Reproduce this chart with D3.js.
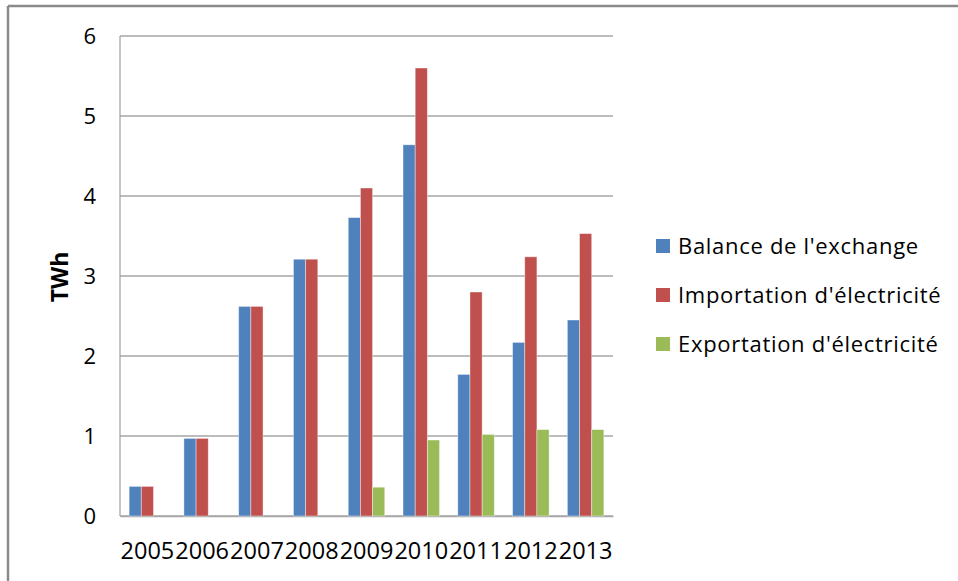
<!DOCTYPE html>
<html>
<head>
<meta charset="utf-8">
<script src="https://cdn.jsdelivr.net/npm/d3@7"></script>
<style>
  html, body { margin: 0; padding: 0; background: #fff; }
  svg { display: block; }
  text { font-family: "Open Sans", "Liberation Sans", sans-serif; fill: #000; }
</style>
</head>
<body>
<svg id="chart" width="958" height="581"></svg>
<script>
const years = ["2005","2006","2007","2008","2009","2010","2011","2012","2013"];
const seriesNames = ["Balance de l'exchange", "Importation d'électricité", "Exportation d'électricité"];
const balance    = [0.37, 0.97, 2.62, 3.21, 3.73, 4.64, 1.77, 2.17, 2.45];
const importation = [0.37, 0.97, 2.62, 3.21, 4.10, 5.60, 2.80, 3.24, 3.53];
const exportation = [0, 0, 0, 0, 0.36, 0.95, 1.02, 1.08, 1.08];
const yTicks = [0, 1, 2, 3, 4, 5, 6];
const colors = ["#4F81BD", "#C0504D", "#9BBB59"];
const yLabel = "TWh";

const seriesValues = [balance, importation, exportation];

const svg = d3.select("#chart");
const margin = { left: 120, top: 36, right: 613, bottom: 516 };

// outer frame (top and left edges visible)
svg.append("line").attr("x1", 8).attr("x2", 958).attr("y1", 6).attr("y2", 6)
  .attr("stroke", "#8a8a8a").attr("stroke-width", 2.5);
svg.append("line").attr("x1", 8).attr("x2", 8).attr("y1", 6).attr("y2", 581)
  .attr("stroke", "#8a8a8a").attr("stroke-width", 2.5);

const x0 = d3.scaleBand().domain(years).range([margin.left, margin.right]).paddingInner(0).paddingOuter(0);
const bw = x0.bandwidth() / 4.5;
const x1 = d3.scaleBand().domain(d3.range(3)).range([0.75 * bw, 3.75 * bw]);
const y = d3.scaleLinear().domain([0, 6]).range([margin.bottom, margin.top]);

// gridlines
svg.append("g").selectAll("line").data(yTicks).join("line")
  .attr("x1", margin.left).attr("x2", margin.right)
  .attr("y1", d => y(d)).attr("y2", d => y(d))
  .attr("stroke", "#a6a6a6").attr("stroke-width", 1.3);

// y axis line
svg.append("line").attr("x1", margin.left).attr("x2", margin.left)
  .attr("y1", y(6)).attr("y2", y(0)).attr("stroke", "#a6a6a6").attr("stroke-width", 1.3);

// y tick labels
const yAxis = d3.axisLeft(y).tickValues(yTicks).tickFormat(d3.format("d")).tickSize(0).tickPadding(24);
const gy = svg.append("g").attr("transform", `translate(${margin.left},0)`).call(yAxis);
gy.select(".domain").remove();
gy.selectAll("text").style("font-size", "22px").attr("fill", "#000")
  .style("font-family", "'Open Sans', sans-serif");

// x axis labels
const xAxis = d3.axisBottom(x0).tickSize(0).tickPadding(26);
const gx = svg.append("g").attr("transform", `translate(0,${margin.bottom})`).call(xAxis);
gx.select(".domain").attr("stroke", "#a6a6a6").attr("stroke-width", 1.3);
gx.selectAll("text").style("font-size", "23.5px").attr("fill", "#000")
  .style("font-family", "'Open Sans', sans-serif");

// bars
const groups = svg.append("g").selectAll("g").data(years).join("g")
  .attr("transform", d => `translate(${x0(d)},0)`);
groups.selectAll("rect").data((d, i) => seriesValues.map((s, k) => ({ k, v: s[i] })))
  .join("rect")
  .attr("x", d => x1(d.k))
  .attr("width", x1.bandwidth())
  .attr("y", d => y(d.v))
  .attr("height", d => y(0) - y(d.v))
  .attr("fill", d => colors[d.k])
  .attr("stroke", d => d.v > 0 ? "#ffffff" : "none")
  .attr("stroke-opacity", 0.5)
  .attr("stroke-width", 0.8);

// y label
svg.append("text")
  .attr("transform", `translate(68,277) rotate(-90)`)
  .attr("text-anchor", "middle")
  .style("font-size", "23px").style("font-weight", "bold")
  .text(yLabel);

// legend
const legend = svg.append("g").selectAll("g").data(seriesNames).join("g")
  .attr("transform", (d, i) => `translate(656,${246 + i * 49})`);
legend.append("rect").attr("x", 0).attr("y", -7).attr("width", 14).attr("height", 14)
  .attr("fill", (d, i) => colors[i]);
legend.append("text").attr("x", 22).attr("y", 0).attr("dy", "0.35em")
  .style("font-size", "22px").attr("letter-spacing", "0.7px").text(d => d);
</script>
</body>
</html>
